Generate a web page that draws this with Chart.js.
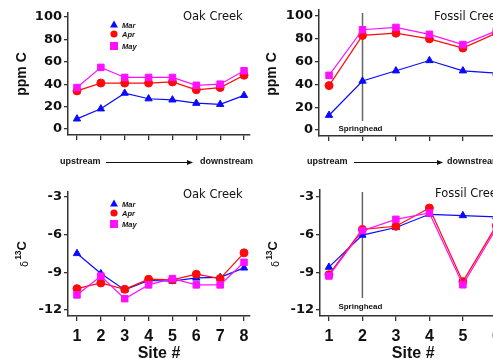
<!DOCTYPE html>
<html><head><meta charset="utf-8">
<script src="https://cdn.jsdelivr.net/npm/chart.js@4.4.0/dist/chart.umd.min.js"></script>
<style>
html,body{margin:0;padding:0;background:#fff;overflow:hidden;width:493px;height:359px;}
.p{position:absolute;}
</style></head><body>
<div class="p" style="left:0;top:0;width:262px;height:180px"><canvas id="c1"></canvas></div>
<div class="p" style="left:0;top:180px;width:262px;height:179px"><canvas id="c3"></canvas></div>
<div class="p" style="left:250px;top:0;width:262px;height:180px"><canvas id="c2"></canvas></div>
<div class="p" style="left:250px;top:180px;width:262px;height:179px"><canvas id="c4"></canvas></div>
<script>
// ---- data ----
const oakSites = [1, 2, 3, 4, 5, 6, 7, 8];
const fossilSites = [1, 2, 3, 4, 5, 6];
const siteTicks = [1, 2, 3, 4, 5, 6, 7, 8];
const ppmTicks = [0, 20, 40, 60, 80, 100];
const d13Ticks = [-12, -9, -6, -3];
const seriesNames = ["Mar", "Apr", "May"];

const oakPpmMar = [9, 18, 32, 27, 26, 23, 22, 30];
const oakPpmApr = [34, 41, 41, 41, 42, 35, 37, 48];
const oakPpmMay = [37, 55, 46, 46, 46, 39, 40, 52];

const fossilPpmMar = [13, 43, 52, 61, 52, 50];
const fossilPpmApr = [39, 83, 85, 80, 72, 85];
const fossilPpmMay = [48, 88, 90, 84, 75, 87];

const oakD13Mar = [-7.5, -9.1, -10.4, -9.65, -9.7, -9.45, -9.4, -8.65];
const oakD13Apr = [-10.3, -9.85, -10.35, -9.55, -9.6, -9.15, -9.5, -7.45];
const oakD13May = [-10.8, -9.3, -11.1, -10.0, -9.5, -10.0, -10.0, -8.2];

const fossilD13Mar = [-8.6, -6.05, -5.45, -4.4, -4.5, -4.6];
const fossilD13Apr = [-9.2, -5.6, -5.35, -3.9, -9.75, -5.3];
const fossilD13May = [-9.3, -5.7, -4.8, -4.3, -10.0, -5.5];

// ---- styles ----
const COLORS = ["#0a0aff", "#ff0a0a", "#ff10ff"];
const STYLES = ["triangle", "circle", "rect"];
const RADII = [4.2, 4, 4.6];
const AXIS = "#333";

function mkSets(sites, arrs) {
  return arrs.map((vals, k) => ({
    label: seriesNames[k],
    data: sites.map((s, i) => ({ x: s, y: vals[i] })),
    borderColor: COLORS[k],
    backgroundColor: COLORS[k],
    pointBackgroundColor: COLORS[k],
    pointBorderColor: COLORS[k],
    pointStyle: STYLES[k],
    pointRadius: RADII[k],
    pointBorderWidth: 1,
    borderWidth: 1.2,
    tension: 0,
    clip: false,
    order: 2 - k
  }));
}

function drawMarker(ctx, k, x, y) {
  ctx.save();
  ctx.fillStyle = COLORS[k];
  ctx.beginPath();
  if (k === 0) { ctx.moveTo(x, y - 4); ctx.lineTo(x + 4, y + 3); ctx.lineTo(x - 4, y + 3); ctx.closePath(); }
  else if (k === 1) { ctx.arc(x, y, 3.6, 0, Math.PI * 2); }
  else { ctx.rect(x - 4, y - 4, 8, 8); }
  ctx.fill();
  ctx.restore();
}

const deco = {
  id: 'deco',
  beforeDatasetsDraw(chart, args, o) {
    const ctx = chart.ctx;
    if (o.spring) {
      const x = chart.scales.x.getPixelForValue(2);
      ctx.save();
      ctx.strokeStyle = "#666";
      ctx.lineWidth = 1.5;
      ctx.beginPath();
      ctx.moveTo(x, o.spring.y0);
      ctx.lineTo(x, o.spring.y1);
      ctx.stroke();
      ctx.fillStyle = "#111";
      ctx.font = 'bold 8px "Liberation Sans"';
      ctx.textBaseline = 'middle';
      ctx.textAlign = 'left';
      ctx.fillText("Springhead", x - 24, o.spring.ty);
      ctx.restore();
    }
  },
  afterDraw(chart, args, o) {
    const ctx = chart.ctx;
    const ca = chart.chartArea;
    ctx.save();
    // panel title
    ctx.fillStyle = "#111";
    ctx.font = '11.5px "DejaVu Sans"';
    ctx.textBaseline = 'middle';
    ctx.textAlign = 'left';
    ctx.fillText(o.title, ca.left + 115, o.titleY);
    // y axis title
    ctx.save();
    ctx.translate(o.yt.x, o.yt.y);
    ctx.rotate(-Math.PI / 2);
    ctx.textBaseline = 'alphabetic';
    if (o.delta) {
      const f1 = '10px "DejaVu Sans"', f2 = 'bold 8.5px "Liberation Sans"', f3 = 'bold 13px "Liberation Sans"';
      ctx.font = f1; const w1 = ctx.measureText("δ").width;
      ctx.font = f2; const w2 = ctx.measureText("13").width;
      ctx.font = f3; const w3 = ctx.measureText("C").width;
      let x = -(w1 + w2 + w3 + 1) / 2;
      ctx.font = f1; ctx.fillText("δ", x, 6); x += w1 + 1;
      ctx.font = f2; ctx.fillText("13", x, -1); x += w2;
      ctx.font = f3; ctx.fillText("C", x, 4);
    } else {
      ctx.font = 'bold 14px "Liberation Sans"';
      ctx.textAlign = 'center';
      ctx.textBaseline = 'middle';
      ctx.fillText(o.ytitle, 0, 0);
    }
    ctx.restore();
    // legend
    if (o.legend) {
      ctx.font = 'italic bold 7.5px "Liberation Sans"';
      ctx.textAlign = 'left';
      ctx.textBaseline = 'middle';
      o.legend.ys.forEach((y, k) => {
        drawMarker(ctx, k, o.legend.x, y);
        ctx.fillStyle = "#111";
        ctx.fillText(seriesNames[k], o.legend.x + 8, y + 1);
      });
    }
    // upstream / downstream arrow
    if (o.arrow) {
      const a = o.arrow;
      ctx.fillStyle = "#111";
      ctx.strokeStyle = "#111";
      ctx.font = 'bold 9px "Liberation Sans"';
      ctx.textAlign = 'left';
      ctx.textBaseline = 'middle';
      ctx.fillText("upstream", a.u, a.y);
      ctx.fillText("downstream", a.d, a.y);
      ctx.lineWidth = 1;
      ctx.beginPath();
      ctx.moveTo(a.l0, a.y + 0.5);
      ctx.lineTo(a.l1 - 4, a.y + 0.5);
      ctx.stroke();
      ctx.beginPath();
      ctx.moveTo(a.l1, a.y + 0.5);
      ctx.lineTo(a.l1 - 6, a.y - 2);
      ctx.lineTo(a.l1 - 6, a.y + 3);
      ctx.closePath();
      ctx.fill();
    }
    // x title
    if (o.xtitle) {
      ctx.fillStyle = "#111";
      ctx.font = 'bold 16px "Liberation Sans"';
      ctx.textAlign = 'center';
      ctx.textBaseline = 'middle';
      ctx.fillText(o.xtitle, (ca.left + ca.right) / 2, o.xtitleY);
    }
    ctx.restore();
  }
};

function makePanel(id, cfg) {
  new Chart(document.getElementById(id), {
    type: 'line',
    data: { datasets: mkSets(cfg.sites, cfg.series) },
    options: {
      responsive: true,
      maintainAspectRatio: false,
      animation: false,
      events: [],
      layout: { padding: { top: cfg.padTop, right: cfg.padRight, left: 0, bottom: 0 } },
      scales: {
        x: {
          type: 'linear',
          min: cfg.xmin, max: cfg.xmax,
          afterBuildTicks: s => { s.ticks = siteTicks.filter(v => v >= cfg.xmin && v <= cfg.xmax).map(v => ({ value: v })); },
          afterFit: s => { s.height = cfg.xh; },
          ticks: {
            display: cfg.xlabels,
            color: "#111",
            font: { family: "Liberation Sans", weight: 'bold', size: 16 },
            padding: 6,
            callback: v => String(v),
            maxRotation: 0, autoSkip: false
          },
          grid: { drawOnChartArea: false, drawTicks: true, tickLength: 5, color: AXIS, lineWidth: 1.3 },
          border: { display: true, color: AXIS, width: 1.5 }
        },
        y: {
          type: 'linear',
          min: cfg.ymin, max: cfg.ymax,
          afterBuildTicks: s => { s.ticks = cfg.yticks.map(v => ({ value: v })); },
          afterFit: s => { s.width = cfg.yw; },
          ticks: {
            color: "#111",
            font: { family: "DejaVu Sans", weight: 'bold', size: 13 },
            padding: 2,
            callback: v => String(v),
            autoSkip: false
          },
          grid: { drawOnChartArea: false, drawTicks: true, tickLength: 4, color: AXIS, lineWidth: 1.3 },
          border: { display: true, color: AXIS, width: 1.5 }
        }
      },
      plugins: { legend: { display: false }, tooltip: { enabled: false }, deco: cfg.deco }
    },
    plugins: [deco]
  });
}

makePanel('c1', {
  sites: oakSites, series: [oakPpmMar, oakPpmApr, oakPpmMay],
  xmin: 0.623, xmax: 8.25, ymin: -5.4, ymax: 103.6, yticks: ppmTicks,
  padTop: 13, padRight: 12, yw: 68, xh: 45, xlabels: false,
  deco: { title: "Oak Creek", titleY: 17, ytitle: "ppm C", yt: { x: 22, y: 74 },
          legend: { x: 114, ys: [24.5, 34, 46] },
          arrow: { u: 60, d: 200, l0: 106, l1: 193, y: 162 } }
});
makePanel('c2', {
  sites: fossilSites, series: [fossilPpmMar, fossilPpmApr, fossilPpmMay],
  xmin: 0.70, xmax: 6.3, ymin: -5.2, ymax: 105.5, yticks: ppmTicks,
  padTop: 9, padRight: 5.4, yw: 69, xh: 44, xlabels: false,
  deco: { title: "Fossil Creek", titleY: 17, ytitle: "ppm C", yt: { x: 22, y: 74 },
          spring: { y0: 13, y1: 121, ty: 129 },
          arrow: { u: 57, d: 197, l0: 104, l1: 193, y: 162 } }
});
makePanel('c3', {
  sites: oakSites, series: [oakD13Mar, oakD13Apr, oakD13May],
  xmin: 0.623, xmax: 8.25, ymin: -12.48, ymax: -2.6, yticks: d13Ticks,
  padTop: 12, padRight: 12, yw: 68, xh: 43, xlabels: true,
  deco: { title: "Oak Creek", titleY: 15, delta: true, yt: { x: 22, y: 74 },
          legend: { x: 114, ys: [23.5, 33, 44] },
          xtitle: "Site #", xtitleY: 174 }
});
makePanel('c4', {
  sites: fossilSites, series: [fossilD13Mar, fossilD13Apr, fossilD13May],
  xmin: 0.734, xmax: 6.3, ymin: -12.48, ymax: -2.47, yticks: d13Ticks,
  padTop: 10, padRight: 3.9, yw: 70, xh: 43, xlabels: true,
  deco: { title: "Fossil Creek", titleY: 14, delta: true, yt: { x: 23, y: 74 },
          spring: { y0: 12, y1: 118, ty: 127 },
          xtitle: "Site #", xtitleY: 174 }
});
</script>
</body></html>
